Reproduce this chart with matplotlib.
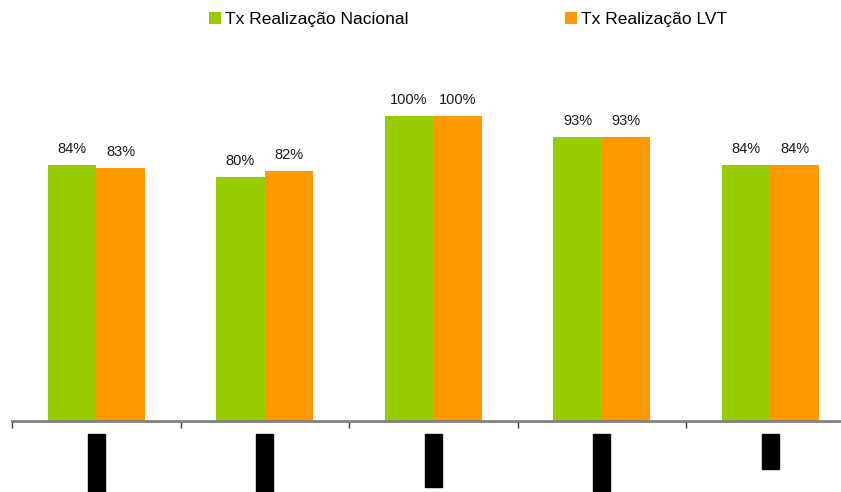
import matplotlib
matplotlib.use("Agg")
import matplotlib.pyplot as plt
import numpy as np
from matplotlib.patches import Rectangle
from matplotlib.transforms import blended_transform_factory

plt.rcParams['font.family'] = ['Liberation Sans', 'DejaVu Sans']

categories = ["Cat 1", "Cat 2", "Cat 3", "Cat 4", "Cat 5"]
nacional = [84, 80, 100, 93, 84]
lvt = [83, 82, 100, 93, 84]
series_names = ["Tx Realização Nacional", "Tx Realização LVT"]

GREEN = "#99CC00"
ORANGE = "#FF9900"

W, H = 841, 492
fig = plt.figure(figsize=(W / 100, H / 100), dpi=100)
left_px, right_px = 12, 854.5
base_px, top_px = 421, 0
ax = fig.add_axes([left_px / W, 1 - base_px / H, (right_px - left_px) / W, (base_px - top_px) / H])

x = np.arange(len(categories))
bw = 0.288
b1 = ax.bar(x - bw / 2, nacional, width=bw, color=GREEN, label=series_names[0], zorder=2)
b2 = ax.bar(x + bw / 2, lvt, width=bw, color=ORANGE, label=series_names[1], zorder=2)

for xi, v in zip(x - bw / 2, nacional):
    ax.annotate(f"{v}%", (xi, v), xytext=(0, 6.5), textcoords="offset points",
                ha="center", va="bottom", fontsize=10.5, color="#1a1a1a")
for xi, v in zip(x + bw / 2, lvt):
    ax.annotate(f"{v}%", (xi, v), xytext=(0, 6.5), textcoords="offset points",
                ha="center", va="bottom", fontsize=10.5, color="#1a1a1a")

ax.set_xlim(-0.5, len(categories) - 0.5)
ax.set_ylim(0, 100 * base_px / (base_px - 116))
for s in ["top", "right", "left"]:
    ax.spines[s].set_visible(False)
ax.spines["bottom"].set_color("#808080")
ax.spines["bottom"].set_linewidth(2)
ax.set_yticks([])
ax.set_xticks(np.arange(len(categories)) - 0.5)
ax.set_xticklabels([])
ax.tick_params(axis="x", length=5, width=1, color="#404040", direction="out")

# redacted category labels (black boxes)
label_len_px = [58, 58, 53, 58, 35]
trans = blended_transform_factory(ax.transData, fig.transFigure)
for xi, L in zip(x, label_len_px):
    bx_w = 17 / ((right_px - left_px) / 5)
    ax.add_patch(Rectangle((xi - bx_w / 2, 1 - (434 + L) / H), bx_w, L / H,
                           transform=trans, color="black", clip_on=False))

common = dict(loc="upper left", frameon=False, fontsize=12.5, handlelength=0.7,
              handleheight=0.7, handletextpad=0.25, borderaxespad=0, borderpad=0)
leg1 = fig.legend(handles=[b1], labels=[series_names[0]], bbox_to_anchor=(209 / W, 1 - 12 / H), **common)
leg2 = fig.legend(handles=[b2], labels=[series_names[1]], bbox_to_anchor=(565 / W, 1 - 12 / H), **common)

fig.savefig("out.png", dpi=100)
